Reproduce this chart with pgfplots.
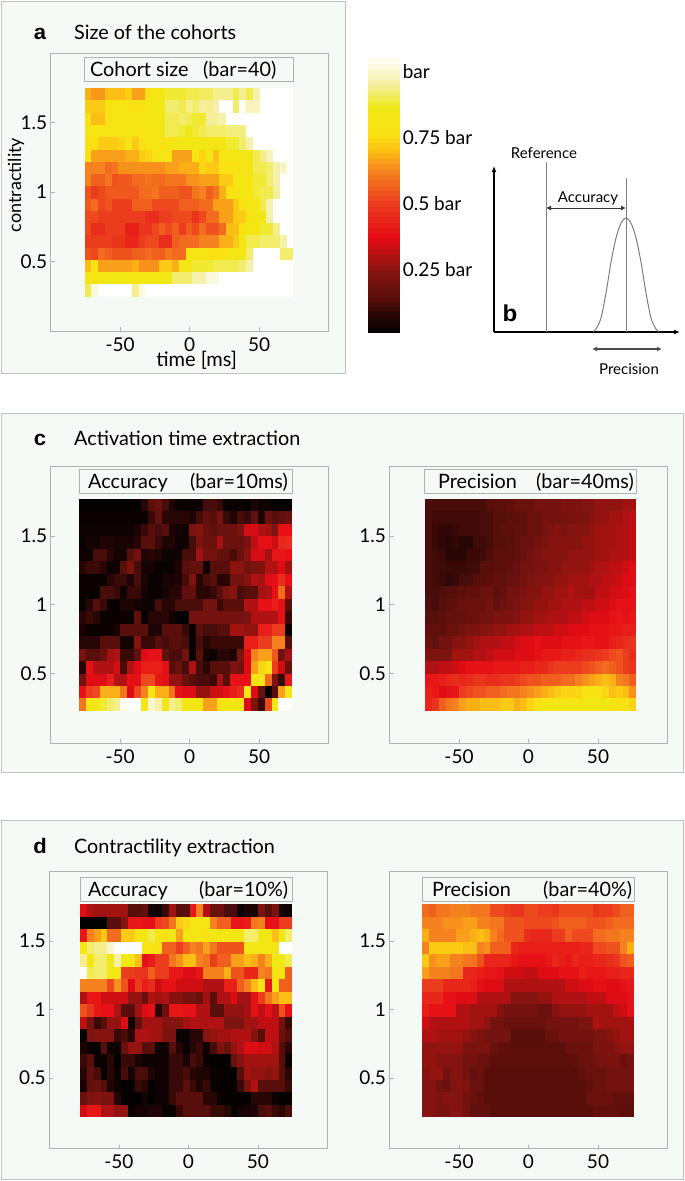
\documentclass[border=0pt]{standalone}
\usepackage{pgfplots}
\usepackage{pgfplotstable}
\usepackage{fontspec}
\pgfplotsset{compat=1.18}
\usetikzlibrary{arrows.meta}
\setmainfont{Lato}
\newfontfamily\panelfont{Liberation Sans}[FakeStretch=1.05]
\definecolor{panelbg}{RGB}{245,250,246}
\definecolor{panelln}{RGB}{190,194,190}
\definecolor{boxln}{RGB}{176,180,176}
\pgfdeclareplotmark{cell}{\pgfpathrectangle{\pgfpoint{-\pgfplotmarksize}{-\pgfplotmarksize}}{\pgfpoint{2\pgfplotmarksize}{2\pgfplotmarksize}}\pgfusepathqfill}
\pgfplotsset{
 colormap={hm}{rgb255(0pt)=(0,0,0) rgb255(8pt)=(40,6,5) rgb255(14pt)=(88,15,12) rgb255(25pt)=(138,20,16) rgb255(37pt)=(230,12,22) rgb255(50pt)=(235,60,30) rgb255(62pt)=(245,130,30) rgb255(70pt)=(252,190,20) rgb255(76pt)=(250,225,20) rgb255(86pt)=(240,232,20) rgb255(96pt)=(245,240,170) rgb255(106pt)=(255,255,255)},
 panel/.style={scale only axis,width=278pt,xmin=-100,xmax=100,
  xtick={-50,0,50},ytick={0.5,1,1.5},xticklabels={-50,0,50},yticklabels={0.5,1,1.5},
  colormap name=hm,point meta min=0,point meta max=106,
  axis line style={draw=boxln,line width=0.7pt},tick style={draw=boxln,line width=0.6pt},major tick length=4pt,tick align=inside,tick pos=left,
  tick label style={font=\fontsize{19}{20}\selectfont},xticklabel style={yshift=-3pt},anchor=south west},
}
\newcommand\heat[7]{%
 \pgfplotsinvokeforeach{1,2,3,4,5,6,7,8,9,10,11,12,13,14,15,16,17,18,19,20,21,22,23,24,25,26,27,28,29,30,31}{%
  \addplot[forget plot,scatter,only marks,mark=cell,mark size=1pt,mark options={xscale=#6,yscale=#7},point meta=explicit]
   table[x expr={#2+(##1-0.5)*(#3-#2)/31},y expr={#4-(\thisrowno{0}-0.5)*(#4-#5)/17},meta index=##1] {#1};
 }}
\pgfplotstableread[header=false]{
1 68 65 65 70 70 70 72 66 66 78 80 82 88 88 88 90 90 91 91 94 94 94 90 94 90 96 106 106 106 106 106
2 72 72 72 78 80 80 78 76 76 82 84 86 92 92 90 94 92 95 94 96 106 106 92 104 98 98 106 106 106 106 106
3 78 70 70 78 80 80 80 82 82 82 84 86 90 90 92 90 88 88 95 95 96 106 106 106 106 106 106 106 106 106 106
4 84 80 80 80 80 82 82 80 80 80 84 86 90 90 88 86 88 90 92 92 92 93 93 93 106 106 106 106 106 106 106
5 78 76 72 72 72 74 78 72 76 80 80 78 80 82 82 84 84 84 84 82 84 88 88 92 96 106 106 106 106 106 106
6 76 66 66 66 66 66 68 68 72 74 78 82 76 66 66 66 80 74 80 70 80 84 84 84 84 90 94 98 106 106 106
7 62 62 62 58 60 64 64 64 64 64 64 64 66 66 68 68 68 74 72 72 78 78 78 82 82 90 90 92 96 100 106
8 62 56 56 60 54 55 55 58 58 60 58 58 60 60 60 64 64 66 66 66 72 72 82 84 84 88 88 92 96 106 106
9 54 50 52 55 55 55 55 55 58 58 60 56 56 56 54 54 60 62 56 60 68 78 78 84 84 88 90 90 95 106 106
10 55 58 52 54 50 50 50 56 56 56 52 52 52 52 56 56 56 58 58 66 66 66 72 76 84 84 90 96 106 106 106
11 52 52 50 50 50 50 50 50 50 46 46 50 50 52 52 52 48 52 58 58 66 66 72 72 78 82 86 96 106 106 106
12 52 46 46 50 50 50 42 42 48 48 52 56 52 56 50 56 52 58 54 54 58 70 70 78 84 84 88 88 94 106 106
13 50 50 50 50 48 48 44 44 50 52 52 46 46 56 58 58 58 62 62 62 68 68 72 84 90 90 92 92 92 96 106
14 54 52 58 56 54 54 54 56 56 58 56 56 60 58 58 80 80 80 76 76 76 82 82 84 92 106 106 106 106 92 92
15 70 76 66 66 66 66 66 68 64 64 64 72 72 68 82 82 88 88 88 90 90 90 90 92 96 106 106 106 106 106 106
16 82 82 82 86 86 86 84 84 84 84 84 84 86 92 92 92 96 96 102 102 106 106 106 106 106 106 106 106 106 106 106
17 90 102 106 106 106 106 106 94 102 106 106 106 106 106 106 106 106 106 106 106 106 106 106 106 106 106 106 106 106 106 106
}\tabA
\pgfplotstableread[header=false]{
1 1 1 1 1 1 1 1 1 1 8 15 18 12 6 2 2 2 3 12 12 10 2 2 2 1 6 3 3 1 1 1
2 2 2 2 2 2 2 2 2 2 2 10 16 8 8 8 8 6 12 16 14 20 10 6 12 10 16 6 18 14 16 18
3 3 3 3 3 3 3 3 3 5 10 14 12 14 6 4 3 22 24 18 16 18 18 18 22 35 35 30 28 22 38 38
4 2 4 4 6 6 5 5 5 8 14 14 10 6 6 3 3 12 22 18 18 28 18 18 18 22 32 38 38 34 44 46
5 3 3 12 12 8 4 4 14 20 6 8 6 3 3 3 12 12 28 20 20 16 16 12 18 25 35 35 28 40 40 38
6 8 10 10 8 3 3 14 22 12 4 4 2 2 2 6 14 16 16 3 14 14 14 25 25 20 22 22 30 30 36 28
7 2 2 2 2 8 10 10 6 12 5 2 2 5 5 6 12 22 8 12 14 8 8 20 20 24 30 28 36 38 46 38
8 2 2 2 12 12 10 3 10 10 4 2 2 4 8 8 16 16 8 8 10 14 22 24 12 14 14 28 30 38 58 30
9 2 8 14 10 2 1 6 6 4 3 3 12 8 8 12 12 12 12 20 20 10 14 14 14 30 30 38 38 42 38 15
10 8 10 8 2 2 2 2 2 16 2 8 8 8 4 1 0 20 20 20 20 20 20 20 20 22 30 30 30 30 38 10
11 5 2 2 2 2 5 14 14 14 14 6 6 14 14 14 10 2 14 12 12 14 14 28 28 26 26 42 42 50 50 2
12 8 8 8 14 14 14 4 4 24 10 10 14 12 14 14 12 2 12 8 10 10 10 10 10 42 42 50 50 62 62 14
13 20 14 14 18 28 30 10 10 16 36 38 38 16 12 12 20 2 14 4 2 8 8 6 22 36 62 66 66 55 20 28
14 8 38 30 30 30 35 12 30 36 42 42 42 38 14 18 12 30 12 8 14 14 14 22 20 36 66 74 82 50 34 18
15 20 36 36 36 42 30 30 38 38 52 52 40 38 26 26 18 14 12 12 10 28 14 38 38 38 80 84 58 22 10 40
16 38 50 52 68 68 68 60 36 52 62 84 68 68 60 38 36 36 26 26 34 34 38 42 46 84 36 18 1 14 66 84
17 60 84 84 88 92 94 104 106 106 82 100 96 86 94 92 84 84 82 66 66 76 84 84 84 36 22 10 52 84 106 106
}\tabB
\pgfplotstableread[header=false]{
1 12 12 12 12 12 12 12 12 12 14 15 15 16 18 18 18 20 20 20 20 22 22 22 24 24 26 26 26 26 28 28
2 12 11 11 11 11 11 11 11 12 12 14 14 15 15 16 18 18 20 20 20 21 21 22 22 24 26 26 28 28 30 32
3 12 10 9 9 10 11 11 11 12 12 14 15 15 16 16 18 18 20 22 24 22 24 24 24 26 28 28 28 30 30 32
4 12 10 9 8 9 8 8 11 11 12 14 14 15 16 18 18 20 22 24 24 24 24 24 26 26 28 28 28 30 30 32
5 12 11 10 8 8 8 10 10 11 13 15 15 15 16 18 20 22 24 24 24 24 26 26 26 26 28 28 30 30 30 32
6 12 11 11 10 10 10 11 11 14 14 15 15 16 18 20 20 22 22 24 24 26 26 26 26 28 30 30 32 32 34 36
7 12 11 10 9 10 12 12 14 14 15 17 16 18 18 20 22 24 24 24 26 26 28 28 28 30 30 32 32 34 36 36
8 12 12 13 14 14 15 16 16 18 18 15 17 20 20 22 24 24 26 26 28 28 30 28 28 28 32 32 34 35 36 38
9 13 12 14 15 16 18 18 18 18 20 17 19 20 22 24 24 26 26 28 28 30 30 30 32 32 34 34 36 38 38 38
10 14 14 15 16 16 17 18 18 20 20 22 22 22 24 26 26 28 28 30 30 30 32 32 34 36 36 36 38 40 38 40
11 16 16 15 18 18 20 22 22 24 24 26 26 28 28 30 30 32 32 32 34 34 36 36 36 38 38 38 40 40 42 42
12 18 16 20 20 24 24 26 28 30 30 30 32 32 34 36 36 38 36 36 36 38 38 38 40 40 38 38 42 44 46 48
13 22 22 22 22 28 28 28 30 30 32 34 34 34 36 36 36 38 40 40 40 42 42 44 46 46 48 50 52 54 50 46
14 30 30 32 32 34 36 38 38 38 38 40 40 40 40 42 42 44 44 48 50 50 50 50 52 54 56 58 56 54 50 48
15 40 40 42 44 46 44 46 48 48 46 46 48 48 50 52 54 54 56 56 56 58 58 62 64 66 68 70 68 62 60 56
16 42 40 36 38 40 50 52 54 54 56 56 58 60 60 62 64 66 68 70 72 74 74 74 76 80 76 74 70 72 70 64
17 44 48 56 60 62 66 68 68 70 70 70 72 72 68 70 74 78 80 84 84 84 82 84 84 84 84 84 80 78 76 74
}\tabC
\pgfplotstableread[header=false]{
1 36 30 28 28 28 28 28 14 14 16 4 3 10 28 14 14 40 62 30 18 18 12 12 3 5 5 22 14 22 5 3
2 0 0 0 0 14 14 24 40 40 38 38 50 52 60 72 74 82 80 80 62 56 56 40 40 42 60 62 38 38 50 50
3 40 62 66 72 58 58 72 72 78 84 90 84 76 84 66 82 82 80 78 84 84 84 84 84 92 92 84 84 70 86 92
4 82 92 94 94 100 106 106 106 106 80 76 76 56 56 50 56 62 60 66 60 54 54 54 54 84 84 84 84 82 106 106
5 94 84 92 92 84 96 86 84 70 38 42 50 50 60 64 70 70 62 60 50 56 56 66 66 70 68 62 68 84 86 90
6 106 90 92 92 84 84 50 50 48 48 56 50 50 40 40 36 36 40 62 62 62 68 54 54 44 44 62 60 78 78 56
7 62 62 62 62 52 64 54 36 50 42 46 34 38 38 34 34 34 34 30 30 30 42 42 56 62 70 76 40 76 56 56
8 30 40 40 34 34 34 34 26 26 18 30 28 30 24 24 20 20 18 28 14 30 30 36 28 28 38 50 60 66 70 70
9 54 48 40 38 38 30 14 14 28 36 38 8 18 40 40 38 38 30 30 14 14 26 26 26 28 38 32 38 32 54 38
10 32 20 10 14 26 26 36 4 16 28 28 28 24 24 24 28 30 30 30 30 30 22 22 22 28 28 32 32 32 20 10
11 0 22 24 24 24 10 12 8 30 30 28 28 22 22 2 2 8 8 24 26 28 28 30 30 30 24 14 32 32 18 14
12 5 1 1 14 3 3 18 26 26 14 14 3 3 14 8 2 8 10 3 12 22 18 26 30 36 36 34 34 30 14 8
13 10 14 2 2 8 1 10 10 5 3 3 3 3 10 10 5 12 10 2 1 1 1 18 24 28 28 28 28 28 14 2
14 8 16 12 2 8 2 12 4 12 12 6 3 3 10 10 12 8 6 6 2 2 1 1 14 28 26 26 24 26 14 8
15 5 16 18 14 6 3 1 1 10 8 1 3 3 10 10 14 10 6 10 2 1 1 1 10 22 30 14 14 14 14 10
16 18 22 24 22 22 8 1 1 1 4 1 3 3 10 14 14 14 14 8 8 2 1 1 1 1 8 8 8 2 1 1
17 34 40 40 30 30 26 26 2 4 4 6 6 2 2 10 14 14 14 14 10 10 8 1 4 5 6 12 14 10 8 12
}\tabD
\pgfplotstableread[header=false]{
1 58 56 60 60 62 62 62 60 60 60 52 52 50 48 48 52 52 50 50 48 52 52 52 52 52 48 50 50 52 56 56
2 62 62 62 64 64 64 66 66 62 62 60 60 54 54 54 52 52 52 52 54 56 56 56 56 54 54 54 56 58 58 58
3 68 62 62 62 62 66 66 68 70 68 62 58 54 54 54 46 44 44 44 50 50 56 52 52 52 58 58 60 60 62 62
4 62 72 72 72 72 72 70 70 62 64 56 56 56 44 42 42 42 42 42 42 42 42 42 44 44 52 52 54 54 62 68
5 72 64 66 66 62 62 60 60 54 44 44 44 44 40 38 38 38 38 40 44 42 40 44 42 42 44 44 46 48 54 56
6 66 62 62 62 60 60 44 44 42 40 40 38 34 34 34 32 32 36 36 36 38 38 38 42 40 40 40 42 42 44 44
7 50 50 50 44 44 44 44 42 38 36 36 36 30 30 30 30 30 30 30 30 30 34 34 36 36 38 38 36 36 38 40
8 44 44 44 38 38 36 36 36 30 30 30 30 30 24 24 24 24 26 26 30 30 30 30 30 32 32 32 36 36 36 38
9 42 38 38 38 38 30 30 28 28 28 28 24 20 20 20 20 20 18 18 24 26 26 26 26 28 28 28 28 32 34 38
10 34 30 30 30 30 30 30 28 28 26 20 20 18 18 18 18 18 18 20 20 20 20 20 22 22 30 28 28 28 28 28
11 30 30 28 28 28 28 26 24 22 20 20 20 20 14 14 14 14 14 18 18 20 20 20 20 20 22 22 24 26 28 28
12 26 26 26 26 26 26 22 22 22 22 18 16 15 15 15 15 15 15 15 15 15 18 18 18 18 22 22 22 24 26 26
13 26 26 24 24 24 24 20 20 18 18 15 15 15 15 15 15 15 15 15 15 15 15 16 18 18 20 22 22 22 18 20
14 24 26 26 20 24 24 20 16 18 14 14 14 14 14 14 14 14 14 14 14 14 14 14 16 18 18 18 20 20 20 20
15 24 24 20 18 22 24 22 18 18 14 14 14 14 14 14 14 14 14 14 14 14 14 14 14 16 18 18 20 20 20 20
16 24 24 22 24 24 24 20 18 16 14 14 14 14 14 14 14 14 14 14 14 14 14 14 14 18 18 18 18 16 16 16
17 24 24 22 22 24 24 20 16 16 16 14 14 14 14 14 14 14 14 14 14 14 14 14 14 14 16 16 16 16 15 15
}\tabE
\begin{document}
\begin{tikzpicture}
\useasboundingbox (0,0) rectangle (685pt,1181pt);
\fill[white] (0,0) rectangle (685pt,1181pt);
\begin{axis}[at={(0,0)},anchor=south west,scale only axis,width=685pt,height=1181pt,xmin=0,xmax=685,ymin=0,ymax=1181,y dir=reverse,hide axis,clip=false,
 nodes={font=\fontsize{19.8}{22}\selectfont,inner sep=0pt}]
 % panels
 \draw[fill=panelbg,draw=panelln,line width=0.8pt] (1,1) rectangle (345,373);
 \draw[fill=panelbg,draw=panelln,line width=0.8pt] (1,413) rectangle (683,772);
 \draw[fill=panelbg,draw=panelln,line width=0.8pt] (1,820) rectangle (683,1179);
 % title boxes
 \draw[fill=panelbg,draw=boxln,line width=0.7pt] (84.3,57) rectangle (293,81);
 \draw[fill=panelbg,draw=boxln,line width=0.7pt] (79.3,469) rectangle (292.7,493);
 \draw[fill=panelbg,draw=boxln,line width=0.7pt] (424,469) rectangle (636,493);
 \draw[fill=panelbg,draw=boxln,line width=0.7pt] (80,877) rectangle (292,901);
 \draw[fill=panelbg,draw=boxln,line width=0.7pt] (422,877) rectangle (634,901);
 \node[anchor=base west] at (90,76) {Cohort size};
 \node[anchor=base west] at (203,76) {(bar=40)};
 \node[anchor=base west] at (88,488) {Accuracy};
 \node[anchor=base west] at (190,488) {(bar=10ms)};
 \node[anchor=base west] at (438,488) {Precision};
 \node[anchor=base west] at (536,488) {(bar=40ms)};
 \node[anchor=base west] at (88,896) {Accuracy};
 \node[anchor=base west] at (199,896) {(bar=10\%)};
 \node[anchor=base west] at (432,896) {Precision};
 \node[anchor=base west] at (543,896) {(bar=40\%)};
 % headings
 \node[anchor=base west] at (74,39) {Size of the cohorts};
 \node[anchor=base west] at (74,445) {Activation time extraction};
 \node[anchor=base west] at (74,853) {Contractility extraction};
 \node[font=\panelfont\fontsize{21}{24}\selectfont\bfseries,anchor=base] at (40,39) {a};
 \node[font=\panelfont\fontsize{21}{24}\selectfont\bfseries,anchor=base] at (40,445) {c};
 \node[font=\panelfont\fontsize{21}{24}\selectfont\bfseries,anchor=base] at (40,853) {d};
 \node[font=\panelfont\fontsize{23}{26}\selectfont\bfseries,anchor=base] at (510,321) {b};
 % schematic
 \draw[black,line width=1.3pt,-{Latex[length=6pt,width=5pt]}] (494,332) -- (494,166);
 \draw[black,line width=1.3pt,-{Latex[length=6pt,width=5pt]}] (494,332) -- (680,332);
 \draw[gray,line width=0.7pt] (546,162) -- (546,332);
 \draw[gray,line width=0.7pt] (626,178) -- (626,332);
 \addplot[gray!90!black,line width=0.9pt,smooth] table {
 593 331.5
 596 329
 601 318
 606 293
 611 262
 616 238
 621 223
 626 218
 631 223
 636 238
 641 262
 646 293
 651 318
 656 329
 659 331.5
 };
 \draw[black!80,line width=0.9pt,{Latex[length=5pt,width=5pt]}-{Latex[length=5pt,width=5pt]}] (546,208) -- (626,208);
 \draw[black!70,line width=1.2pt,{Latex[length=5pt,width=5pt]}-{Latex[length=5pt,width=5pt]}] (592,349) -- (662,349);
 \node[font=\fontsize{15}{17}\selectfont] at (544,153) {Reference};
 \node[font=\fontsize{15}{17}\selectfont] at (588,198) {Accuracy};
 \node[font=\fontsize{15}{17}\selectfont] at (629,369) {Precision};
\end{axis}
% colour bar
\begin{axis}[scale only axis,at={(369pt,849pt)},anchor=south west,width=30.3pt,height=277pt,
 xmin=0,xmax=1,ymin=1.5,ymax=106.4,xtick=\empty,ytick={25,50,75,100},yticklabels={0.25 bar,0.5 bar,0.75 bar,bar},yticklabel pos=right,
 colormap name=hm,point meta min=0,point meta max=106,axis on top,
 axis line style={draw=gray,line width=0.5pt},tick style={draw=black,line width=0.4pt},major tick length=2pt,
 tick label style={font=\fontsize{19}{21}\selectfont}]
 \addplot[scatter,only marks,mark=cell,mark size=1pt,mark options={xscale=16,yscale=2.8},point meta=y] table {
 0.5 2
 0.5 4
 0.5 6
 0.5 8
 0.5 10
 0.5 12
 0.5 14
 0.5 16
 0.5 18
 0.5 20
 0.5 22
 0.5 24
 0.5 26
 0.5 28
 0.5 30
 0.5 32
 0.5 34
 0.5 36
 0.5 38
 0.5 40
 0.5 42
 0.5 44
 0.5 46
 0.5 48
 0.5 50
 0.5 52
 0.5 54
 0.5 56
 0.5 58
 0.5 60
 0.5 62
 0.5 64
 0.5 66
 0.5 68
 0.5 70
 0.5 72
 0.5 74
 0.5 76
 0.5 78
 0.5 80
 0.5 82
 0.5 84
 0.5 86
 0.5 88
 0.5 90
 0.5 92
 0.5 94
 0.5 96
 0.5 98
 0.5 100
 0.5 102
 0.5 104
 0.5 106
 };
\end{axis}
% panel a
\begin{axis}[panel,at={(50.7pt,850pt)},height=278pt,ymin=0,ymax=2,
 xlabel={time [ms]},ylabel={contractility},
 xlabel style={at={(axis description cs:0.525,-0.105)},anchor=center,font=\fontsize{20}{22}\selectfont},
 ylabel style={at={(axis description cs:-0.125,0.525)},anchor=center,rotate=0,font=\fontsize{18}{20}\selectfont}]
 \heat{\tabA}{-75.5}{74.6}{1.746}{0.247}{3.45}{6.2}
\end{axis}
% panel c
\begin{axis}[panel,at={(50.7pt,438pt)},height=277pt,ymin=-0.008,ymax=2.01]
 \heat{\tabB}{-79.4}{73.7}{1.77}{0.225}{3.48}{6.3}
\end{axis}
\begin{axis}[panel,at={(389.5pt,438pt)},height=277pt,ymin=-0.008,ymax=2.01]
 \heat{\tabC}{-74.3}{77.5}{1.77}{0.225}{3.48}{6.3}
\end{axis}
% panel d
\begin{axis}[panel,at={(49.3pt,32.3pt)},height=277.7pt,ymin=-0.016,ymax=2.011]
 \heat{\tabD}{-77.9}{74.8}{1.767}{0.215}{3.48}{6.27}
\end{axis}
\begin{axis}[panel,at={(389.5pt,32.3pt)},height=277.7pt,ymin=-0.016,ymax=2.011]
 \heat{\tabE}{-76.3}{75.5}{1.767}{0.215}{3.48}{6.27}
\end{axis}
\end{tikzpicture}
\end{document}
